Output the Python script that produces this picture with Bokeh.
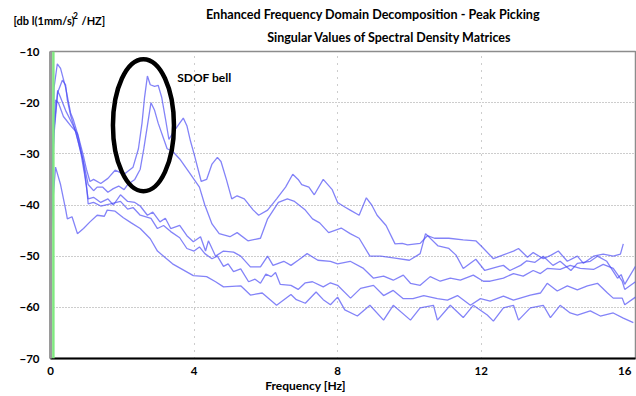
from bokeh.plotting import figure
from bokeh.models import Range1d, Label, Span, FixedTicker
from bokeh.core.properties import value
from bokeh.embed import file_html
from bokeh.resources import INLINE

# ---------------- data (frequency [Hz], level [dB]) ----------------
curve_p = [(0.0,-46),(0.05,-30),(0.1,-17),(0.19,-12.4),(0.28,-13.3),(0.42,-17),(0.56,-22),(0.64,-23.4),
           (0.78,-26.7),(0.92,-30.5),(1.0,-33),(1.1,-35.4),(1.2,-35),(1.4,-35.8),(1.6,-34.8),(1.8,-33.2),
           (2.05,-34),(2.3,-32.6),(2.45,-29),(2.55,-24),(2.62,-19),(2.7,-14.8),(2.78,-16.5),(2.9,-16.8),
           (3.0,-16.6),(3.1,-19),(3.2,-23),(3.3,-27.2),(3.4,-26),(3.55,-24.5),(3.7,-23),(3.8,-24.5),
           (3.9,-27.5),(4.0,-30),(4.2,-35.4),(4.35,-35),(4.5,-32),(4.65,-30.7),(4.75,-31.5),(4.9,-35),
           (5.05,-38.8),(5.2,-38.2),(5.4,-38.8),(5.65,-41),(5.8,-42),(6.05,-41),(6.3,-38.8),(6.55,-36.5),
           (6.75,-34),(6.9,-35),(7.0,-36),(7.2,-36.5),(7.35,-38),(7.6,-35),(7.85,-37),(8.0,-39.5),
           (8.2,-40.4),(8.35,-41),(8.6,-42),(8.8,-38.6),(8.95,-40),(9.1,-42),(9.35,-44),(9.6,-47.6),
           (9.8,-47.5),(9.95,-47.8),(10.3,-47.5),(10.5,-46),(10.7,-46.5),(11.1,-46.5),(11.5,-46.8),
           (11.85,-47),(12.0,-48),(12.34,-50.5),(12.6,-49.8),(12.9,-49),(13.04,-48.5),(13.29,-50.2),
           (13.45,-49.3),(13.73,-50.5),(13.95,-49.8),(14.15,-49),(14.4,-51),(14.68,-50),(14.85,-51.4),
           (15.13,-50),(15.4,-49.6),(15.68,-50),(15.88,-49.6),(15.96,-47.6)]

curve_q = [(0.0,-48),(0.05,-36),(0.1,-26),(0.2,-18),(0.33,-15.6),(0.42,-16.5),(0.47,-19.5),(0.56,-22.5),
           (0.64,-24.3),(0.78,-27.8),(0.92,-31.6),(1.05,-36),(1.2,-37.2),(1.3,-36.5),(1.45,-36.5),
           (1.6,-37.5),(1.75,-36.8),(1.9,-36.3),(2.05,-37),(2.15,-36),(2.35,-35),(2.5,-33),(2.6,-29),
           (2.7,-24.5),(2.8,-20),(2.9,-21.5),(3.0,-24),(3.15,-27),(3.25,-29),(3.4,-29.5),(3.6,-31),
           (3.85,-33.5),(4.0,-35),(4.15,-36.5),(4.3,-40),(4.5,-43.7),(4.7,-45.6),(5.0,-46.2),(5.2,-45.4),
           (5.5,-47),(5.85,-46.5),(6.05,-42.7),(6.35,-39.5),(6.6,-38.8),(6.8,-39.3),(7.1,-41),(7.3,-42.7),
           (7.5,-43.5),(7.75,-45.4),(8.1,-44.5),(8.35,-45.6),(8.6,-46.5),(8.9,-50),(9.2,-50),(9.6,-50.4),
           (10.0,-50.8),(10.3,-49.5),(10.45,-45.6),(10.8,-48),(11.1,-48.5),(11.3,-49.8),(11.5,-52.4),
           (11.85,-50.6),(12.1,-52.8),(12.5,-52),(12.62,-51.8),(12.8,-52.8),(13.1,-51.8),(13.27,-50.9),
           (13.5,-51.2),(13.73,-50),(14.0,-51.8),(14.2,-51),(14.5,-52.8),(14.68,-51.4),(15.04,-51),
           (15.24,-50),(15.5,-51),(15.8,-54.3),(15.9,-53.6),(16.0,-55.5),(16.3,-52)]

curve_r = [(0.0,-47),(0.05,-33),(0.1,-25),(0.2,-17.6),(0.28,-19),(0.42,-21.5),(0.56,-23.5),(0.7,-25.5),
           (0.85,-30),(0.95,-34),(1.05,-38.8),(1.2,-38.5),(1.4,-39.5),(1.6,-38.8),(1.75,-40),(1.95,-38),
           (2.15,-39.3),(2.35,-39.5),(2.5,-40.2),(2.7,-42),(2.85,-41.4),(3.05,-43.3),(3.2,-42.6),
           (3.35,-44.6),(3.6,-44),(3.8,-46),(3.98,-47.2),(4.18,-46.2),(4.32,-49),(4.4,-47),(4.6,-50),
           (4.82,-49),(5.1,-49.2),(5.3,-50),(5.57,-52.1),(5.85,-52.1),(6.05,-50),(6.2,-51.8),(6.5,-51),
           (6.7,-51.8),(6.9,-50.8),(7.15,-49.5),(7.45,-50.8),(7.8,-51),(8.0,-51.5),(8.35,-51),(8.72,-52.4),
           (9.0,-54.3),(9.28,-53.9),(9.55,-54.7),(9.83,-53.7),(10.03,-55.3),(10.3,-55.7),(10.58,-54),
           (10.86,-54.9),(11.14,-54.3),(11.42,-54.7),(11.78,-53.7),(12.06,-54.9),(12.25,-54.9),
           (12.62,-54.3),(12.9,-53.4),(13.17,-53.9),(13.45,-52.8),(13.65,-53.4),(13.84,-52.4),(14.2,-52.6),
           (14.48,-51.8),(14.76,-52.4),(15.13,-52.6),(15.4,-51.6),(15.68,-52.4),(15.93,-54.9),(16.0,-56.5),
           (16.3,-55)]

curve_s = [(0.0,-48),(0.04,-34),(0.08,-26),(0.14,-19.5),(0.22,-20),(0.36,-22.7),(0.56,-24.5),(0.75,-26),
           (0.9,-31),(1.0,-36),(1.05,-39.8),(1.2,-39.5),(1.4,-40.2),(1.67,-39.8),(1.95,-39.3),(2.15,-40.8),
           (2.3,-40.5),(2.5,-42),(2.8,-42.6),(2.98,-44.6),(3.15,-44),(3.35,-45.2),(3.6,-46.4),(3.8,-48.5),
           (4.0,-49),(4.15,-48.2),(4.3,-49.5),(4.5,-50.5),(4.65,-50),(4.82,-52),(4.95,-51.5),(5.1,-53),
           (5.3,-52.5),(5.52,-55),(5.7,-54.5),(5.85,-55.3),(6.0,-53.5),(6.15,-54),(6.27,-53.2),(6.4,-55.5),
           (6.7,-55.7),(6.9,-56.5),(7.1,-55.2),(7.3,-55),(7.6,-56),(7.8,-55.2),(8.0,-55.7),(8.36,-58.2),
           (8.64,-56.3),(9.0,-55.7),(9.28,-57.7),(9.55,-56.7),(9.83,-58.3),(10.1,-58.3),(10.4,-57.7),
           (10.78,-58.3),(11.06,-58.6),(11.34,-57.7),(11.7,-59.6),(11.98,-58.3),(12.25,-58.8),(12.62,-57.8),
           (12.9,-58.6),(13.37,-57.6),(13.65,-57.2),(13.84,-55.3),(14.12,-56.8),(14.4,-55.8),(14.68,-56.6),
           (14.96,-55.8),(15.24,-55.3),(15.52,-57.2),(15.68,-58.2),(15.93,-58.2),(16.0,-59.5),(16.3,-58)]

curve_e = [(0.0,-48),(0.05,-42),(0.08,-38),(0.14,-32.6),(0.28,-36),(0.42,-40.8),(0.47,-42.7),(0.6,-42.3),
           (0.75,-45.6),(0.92,-44.6),(1.1,-43.3),(1.3,-42),(1.5,-42.2),(1.58,-41),(1.8,-41.2),(2.03,-42.5),
           (2.25,-43.5),(2.5,-44.6),(2.78,-46.6),(2.98,-49),(3.4,-51.5),(3.98,-53.8),(4.35,-54),(4.6,-55),
           (4.82,-56),(5.3,-55.8),(5.57,-57.6),(5.9,-57.2),(6.3,-59.6),(6.7,-57.5),(6.85,-58.5),(7.1,-59.2),
           (7.4,-57),(7.6,-58.5),(7.8,-59.5),(8.0,-58),(8.2,-60.5),(8.55,-61.7),(8.9,-59.6),(9.28,-62.5),
           (9.55,-59.6),(10.03,-62.5),(10.3,-60.1),(10.67,-59.6),(10.78,-62.5),(11.14,-59.6),(11.5,-62),
           (11.78,-59.6),(12.17,-61.5),(12.34,-62.7),(12.62,-60.1),(12.9,-59.6),(13.04,-62.5),(13.37,-60.1),
           (13.73,-59.6),(13.93,-62),(14.2,-59.6),(14.48,-61.1),(14.68,-61.5),(15.04,-60.7),(15.32,-61.7),
           (15.68,-61.1),(15.96,-62.1),(16.24,-63)]

curves = [curve_p, curve_q, curve_r, curve_s, curve_e]

x_ticks = [0, 4, 8, 12, 16]
y_ticks = [-70, -60, -50, -40, -30, -20, -10]

title_1 = "Enhanced  Frequency Domain Decomposition - Peak Picking"
title_2 = "Singular Values of Spectral  Density Matrices"
x_title = "Frequency [Hz]"
y_title_a = "[db l(1mm/s)"
y_title_sup = "2"
y_title_b = "/HZ]"
note_text = "SDOF bell"

# SDOF bell ellipse (centre, width, height in data units)
bell = dict(x=2.59, y=-24.4, w=1.70, h=25.8)

FONT = "Lato"
W = 636
HEAD_H = 44
MAIN_H = 333
FOOT_H = 396 - HEAD_H - MAIN_H


def strip(h):
    f = figure(width=W, height=h, x_range=Range1d(0, W), y_range=Range1d(0, h),
               output_backend="svg", toolbar_location=None,
               x_axis_location=None, y_axis_location=None,
               min_border=0, min_border_left=0, min_border_right=0,
               min_border_top=0, min_border_bottom=0)
    f.grid.visible = False
    f.outline_line_color = None
    f.background_fill_color = "white"
    f.border_fill_color = "white"
    return f


def stext(fig, h, x, y_screen, t, size, align):
    # y_screen is measured downward from the strip's top edge
    fig.text(x=[x], y=[h - y_screen], text=[t], text_font=value(FONT), text_font_style="bold",
             text_font_size=value(size), text_align=align, text_baseline="middle",
             text_color="black")


# ---------------- header (titles + unit label) ----------------
head = strip(HEAD_H)
stext(head, HEAD_H, 374, 14, title_1, "12.6px", "center")
stext(head, HEAD_H, 390.5, 36.5, title_2, "12.5px", "center")
stext(head, HEAD_H, 13, 20, y_title_a, "11px", "left")
stext(head, HEAD_H, 72.5, 15, y_title_sup, "8.5px", "left")
stext(head, HEAD_H, 81, 20, y_title_b, "11px", "left")

# ---------------- main plot ----------------
p = figure(width=W, height=MAIN_H, x_range=Range1d(0, 16.3), y_range=Range1d(-70, -10),
           output_backend="svg", toolbar_location=None,
           min_border_left=50, min_border_right=1, min_border_top=7, min_border_bottom=16)
p.background_fill_color = "white"
p.border_fill_color = "white"
p.outline_line_color = "#8c8c8c"
p.outline_line_width = 1.5

p.xaxis.ticker = FixedTicker(ticks=x_ticks)
p.yaxis.ticker = FixedTicker(ticks=y_ticks)
for ax in (p.xaxis, p.yaxis):
    ax.major_tick_line_color = None
    ax.minor_tick_line_color = None
    ax.major_label_text_font = FONT
    ax.major_label_text_font_style = "bold"
    ax.major_label_text_font_size = "11.5px"
    ax.major_label_text_color = "black"
p.xaxis.axis_line_color = "black"
p.xaxis.axis_line_width = 2
p.yaxis.axis_line_color = "#9a9a9a"
p.yaxis.axis_line_width = 3
p.xaxis.major_label_standoff = 2
p.yaxis.major_label_standoff = 5

p.xgrid.ticker = FixedTicker(ticks=[4, 8, 12])
p.ygrid.ticker = FixedTicker(ticks=[-60, -50, -40, -30, -20])
p.xgrid.grid_line_color = "#9a9a9a"
p.ygrid.grid_line_color = "#9a9a9a"
p.xgrid.grid_line_dash = "1 6"
p.ygrid.grid_line_dash = "1 2"

p.add_layout(Span(location=0.08, dimension="height", line_color="#80e880", line_width=2.5))

for c in curves:
    xs = [pt[0] for pt in c]
    ys = [pt[1] for pt in c]
    p.line(xs, ys, line_color="#4848f4", line_alpha=0.68, line_width=1.3)

p.ellipse(x=[bell["x"]], y=[bell["y"]], width=[bell["w"]], height=[bell["h"]],
          fill_color=None, line_color="black", line_width=4.5)

p.add_layout(Label(x=3.53, y=-15.0, text=note_text, text_font=FONT, text_font_style="bold",
                   text_font_size="12px", text_align="left", text_baseline="middle",
                   text_color="black"))

# ---------------- footer (x axis title) ----------------
foot = strip(FOOT_H)
stext(foot, FOOT_H, 305, 385 - HEAD_H - MAIN_H, x_title, "12px", "center")

open("out.html", "w").write(file_html([head, p, foot], INLINE))
